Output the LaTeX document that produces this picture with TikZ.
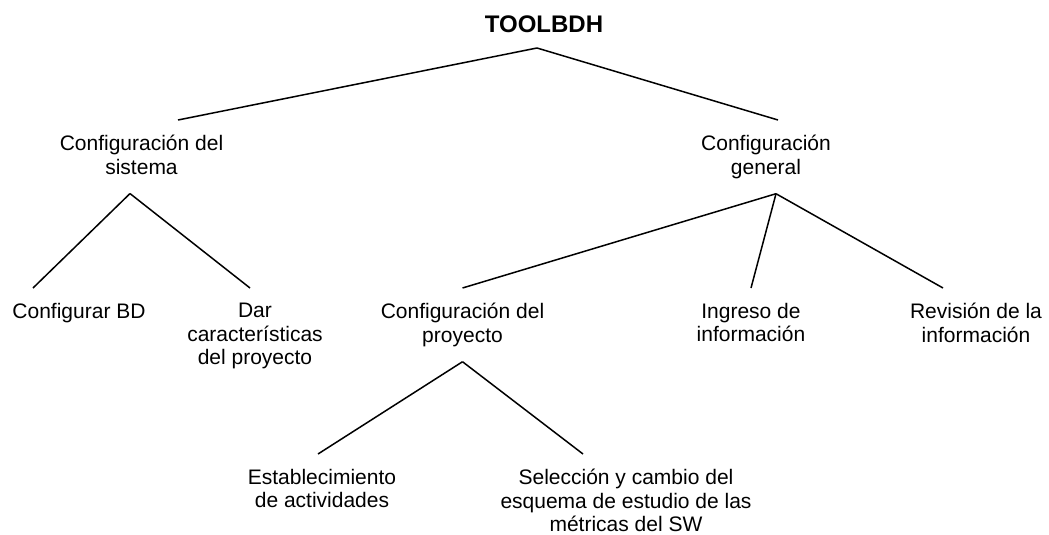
\documentclass[tikz,border=0pt]{standalone}
\usepackage{fontspec}
\setmainfont{Liberation Sans}
\usepackage{tikz}
\tikzstyle{item} = [align=center, inner xsep=0pt, inner ysep=15pt, anchor=north, font=\fontsize{21}{23.5}\selectfont]
\tikzstyle{branch} = [line width=1.5pt]

\begin{document}
\begin{tikzpicture}[x=1pt, y=-1pt]
\useasboundingbox (0,0) rectangle (1049,535);

\node[item, anchor=south, font=\fontsize{24}{28}\selectfont\bfseries] (root) at (544,48) {TOOLBDH};

\node[item] (sistema) at (141.5,120) {Configuración del\\sistema};
\node[item] (general) at (766,120) {Configuración\\general};

\node[item] (bd) at (79,288) {Configurar BD};
\node[item] (dar) at (255,288) {Dar\\características\\del proyecto};
\node[item] (proyecto) at (462.5,288) {Configuración del\\proyecto};
\node[item] (ingreso) at (751,288) {Ingreso de\\información};
\node[item] (revision) at (976,288) {Revisión de la\\información};

\node[item] (activ) at (322,454) {Establecimiento\\de actividades};
\node[item] (metricas) at (626,454) {Selección y cambio del\\esquema de estudio de las\\métricas del SW};

\draw[branch] ([xshift=-7pt]root.south) -- ([xshift=36.5pt]sistema.north);
\draw[branch] ([xshift=-7pt]root.south) -- ([xshift=12pt]general.north);
\draw[branch] ([xshift=-11.5pt,yshift=-4pt]sistema.south) -- ([xshift=-46pt]bd.north);
\draw[branch] ([xshift=-11.5pt,yshift=-4pt]sistema.south) -- ([xshift=-5pt]dar.north);
\draw[branch] ([xshift=10pt]general.south) -- (proyecto.north);
\draw[branch] ([xshift=10pt]general.south) -- (ingreso.north);
\draw[branch] ([xshift=10pt]general.south) -- ([xshift=-33pt]revision.north);
\draw[branch] (proyecto.south) -- ([xshift=-4pt]activ.north);
\draw[branch] (proyecto.south) -- ([xshift=-43pt]metricas.north);

\end{tikzpicture}
\end{document}
